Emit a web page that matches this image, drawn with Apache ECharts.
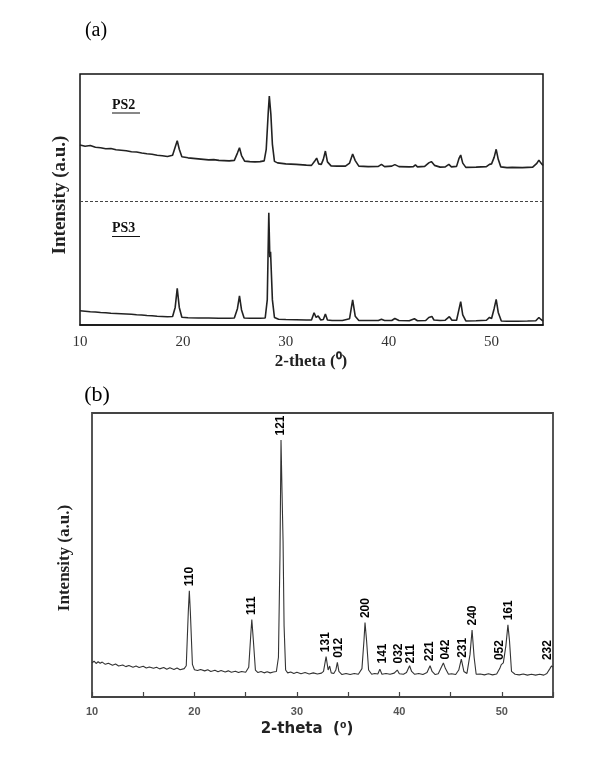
<!DOCTYPE html>
<html><head><meta charset="utf-8">
<script src="https://cdn.jsdelivr.net/npm/echarts/dist/echarts.min.js"></script>
<style>html,body{margin:0;padding:0;background:#fff}#c{width:608px;height:768px}</style>
</head><body><div id="c"></div>
<script>
// ---------- Panel (a): PS2 (offset upper trace) ----------
const ps2Theta = [10.0,10.5,11.0,11.5,12.0,12.5,13.0,13.5,14.0,14.5,15.0,15.5,16.0,16.5,17.0,17.5,18.0,18.5,19.0,19.3,19.45,19.65,19.9,20.5,21.0,21.5,22.0,22.5,23.0,23.5,24.0,24.5,25.0,25.3,25.5,25.7,26.0,26.5,27.0,27.5,27.9,28.1,28.3,28.4,28.55,28.7,28.9,29.2,30.0,31.0,32.0,32.5,32.8,33.0,33.2,33.45,33.65,33.85,34.05,34.4,35.0,35.8,36.2,36.5,36.75,37.1,38.0,39.0,39.3,39.6,40.3,40.6,41.0,42.0,42.4,42.6,42.8,43.5,43.9,44.15,44.45,45.0,45.5,45.85,46.1,46.6,46.85,47.0,47.2,47.5,48.5,49.5,49.8,50.0,50.25,50.45,50.65,50.9,51.5,52.0,53.0,53.5,54.0,54.4,54.6,54.8,55.0];
const ps2Int = [71.7,71.2,71.5,70.8,70.6,70.2,70.3,69.8,69.6,69.4,69.0,68.9,68.5,68.2,68.0,67.6,67.4,67.1,67.6,71.5,73.4,70.0,67.0,66.6,66.4,66.2,66.0,65.8,65.9,65.6,65.5,65.4,65.6,68.5,70.6,67.5,65.3,65.1,65.0,65.1,65.4,70.0,85.0,91.2,84.0,72.0,65.2,64.6,64.2,64.0,63.7,63.6,65.2,66.5,64.2,64.0,66.0,69.3,65.0,63.4,63.3,63.3,64.5,68.1,65.5,63.3,63.1,63.2,64.0,63.1,63.3,63.9,63.1,63.0,63.1,63.8,63.0,63.2,64.6,65.1,63.6,62.9,63.0,64.0,63.0,63.2,66.5,67.7,64.5,62.8,62.9,63.1,64.0,64.2,66.8,70.0,66.0,63.0,62.7,62.8,62.7,62.8,62.9,64.4,65.7,64.5,63.5];

// ---------- Panel (a): PS3 (lower trace) ----------
const ps3Theta = [10.0,10.5,11.0,11.5,12.0,12.5,13.0,13.5,14.0,14.5,15.0,15.5,16.0,16.5,17.0,17.5,18.0,18.5,19.0,19.25,19.45,19.65,19.9,20.5,21.5,22.5,23.5,24.5,25.0,25.3,25.5,25.7,25.95,26.5,27.5,28.0,28.2,28.35,28.45,28.52,28.7,28.9,29.3,30.0,31.0,32.0,32.5,32.75,32.95,33.15,33.4,33.65,33.85,34.05,34.5,35.5,36.2,36.5,36.75,37.1,38.0,39.0,39.3,39.6,40.3,40.6,41.0,42.0,42.5,42.8,43.6,43.9,44.0,44.2,44.4,45.0,45.5,45.9,46.15,46.6,46.85,47.0,47.2,47.5,48.5,49.5,49.8,50.0,50.25,50.45,50.65,50.95,51.5,52.5,53.5,54.3,54.6,54.8,55.0];
const ps3Int = [5.7,5.5,5.3,5.2,5.0,4.9,4.7,4.6,4.5,4.4,4.3,4.1,4.0,3.8,3.7,3.5,3.4,3.3,3.4,7.0,14.6,7.0,3.1,2.9,2.8,2.8,2.7,2.7,2.8,6.5,11.6,6.0,2.8,2.7,2.7,2.8,10.0,44.7,27.0,29.2,10.0,3.0,2.3,2.2,2.1,2.0,2.0,4.9,3.0,3.6,2.0,2.2,4.4,2.0,1.8,1.8,2.5,10.0,3.5,1.8,1.8,1.8,2.3,1.8,1.8,2.6,1.8,1.7,2.5,1.7,1.8,3.0,2.7,3.4,2.0,1.8,1.9,3.3,1.9,1.9,6.5,9.3,4.0,1.6,1.7,1.9,3.0,2.6,6.5,10.2,5.0,1.6,1.5,1.5,1.6,1.7,3.0,2.2,1.6];
const separatorLevel = 49.5;

// ---------- Panel (b): indexed pattern ----------
const bTheta = [10.0,10.2,10.4,10.6,10.8,11.0,11.3,11.6,12.0,12.3,12.6,13.0,13.3,13.6,14.0,14.3,14.6,15.0,15.3,15.6,16.0,16.3,16.6,17.0,17.3,17.6,18.0,18.3,18.6,19.0,19.2,19.4,19.5,19.6,19.8,20.0,20.3,20.6,21.0,21.3,21.6,22.0,22.3,22.6,23.0,23.3,23.6,24.0,24.3,24.6,25.0,25.3,25.5,25.6,25.75,25.95,26.2,26.5,26.8,27.1,27.4,27.7,28.0,28.2,28.35,28.45,28.55,28.65,28.75,28.9,29.1,29.4,29.7,30.0,30.4,30.8,31.2,31.6,32.0,32.4,32.6,32.85,33.05,33.2,33.35,33.6,33.8,33.95,34.1,34.4,34.8,35.2,35.6,36.0,36.35,36.55,36.65,36.8,37.0,37.3,37.6,37.9,38.1,38.3,38.7,39.1,39.5,39.8,40.0,40.4,40.7,41.0,41.2,41.5,41.9,42.3,42.7,43.0,43.2,43.5,43.8,44.1,44.3,44.5,44.8,45.1,45.5,45.8,46.05,46.3,46.6,46.9,47.1,47.3,47.5,47.9,48.3,48.7,49.1,49.5,49.8,49.95,50.15,50.4,50.6,50.75,50.95,51.3,51.7,52.1,52.5,52.9,53.3,53.7,54.1,54.4,54.7,54.85,55.0];
const bInt = [12.0,12.6,11.8,12.4,11.9,12.3,11.5,11.9,11.2,11.6,10.9,11.3,10.7,11.1,10.5,10.9,10.4,10.8,10.2,10.6,10.1,10.5,9.9,10.4,9.8,10.3,9.7,10.2,9.6,10.0,11.0,30.0,37.4,30.0,11.5,9.6,9.3,9.7,9.2,9.6,9.0,9.4,8.9,9.3,8.8,9.2,8.7,9.1,8.6,9.0,8.7,10.5,22.0,27.3,20.0,9.5,8.6,9.0,8.5,8.9,8.5,8.8,9.0,14.0,50.0,90.5,72.0,55.0,25.0,9.5,8.5,8.8,8.3,8.7,8.2,8.6,8.1,8.5,8.1,8.4,9.0,14.2,9.5,10.9,8.5,8.3,9.5,12.2,9.0,7.9,8.3,7.9,8.3,8.0,10.0,20.0,26.2,20.0,9.5,8.0,8.3,8.1,9.8,8.0,8.3,8.0,8.4,9.5,8.2,8.0,8.6,11.0,9.0,8.0,8.3,7.9,8.6,11.0,9.0,7.9,8.2,10.5,12.0,10.0,8.0,8.2,7.9,9.5,13.3,9.0,8.3,15.0,23.6,14.0,8.0,8.1,7.8,8.2,7.8,8.1,10.0,11.4,12.0,18.0,25.4,20.0,9.0,8.0,7.8,8.1,7.7,8.0,7.7,8.0,7.7,8.3,10.0,10.9,10.5];

// Miller-index labels of panel (b)
const hklLabels = ['110','111','121','131','012','200','141','032','211','221','042','231','240','052','161','232'];
const hklTheta  = [19.5,25.6,28.45,32.8,34.05,36.7,38.35,39.9,41.15,43.0,44.55,46.2,47.2,49.75,50.7,54.45];
const hklInt    = [37.4,27.3,90.5,14.2,12.2,26.2,10.2,10.2,10.2,11.0,11.6,12.2,23.6,11.4,25.4,11.4];

const xTickLabels = [10,20,30,40,50];

const pairs = (xs, ys) => xs.map((x, i) => [x, ys[i]]);
const SERIF = '"Liberation Serif", "Times New Roman", serif';
const SANS = '"Liberation Sans", Arial, sans-serif';

const chart = echarts.init(document.getElementById('c'), null, {renderer: 'canvas'});
const xFmt = v => (xTickLabels.indexOf(v) >= 0 ? String(v) : '');

chart.setOption({
  animation: false,
  backgroundColor: '#fff',
  grid: [
    {left: 80, top: 74, width: 463, height: 251, show: true, borderColor: '#111', borderWidth: 1.5, outerBoundsMode: 'none', containLabel: false},
    {left: 92, top: 413, width: 461, height: 284, show: true, borderColor: '#444', borderWidth: 1.8, outerBoundsMode: 'none', containLabel: false}
  ],
  xAxis: [
    {gridIndex: 0, type: 'value', min: 10, max: 55, interval: 10,
     axisLine: {show: true, lineStyle: {color: '#111', width: 1.5}},
     axisTick: {show: false}, splitLine: {show: false},
     axisLabel: {formatter: xFmt, fontFamily: SERIF, fontSize: 15, color: '#333', margin: 10, showMaxLabel: true}},
    {gridIndex: 1, type: 'value', min: 10, max: 55, interval: 5,
     axisLine: {show: true, lineStyle: {color: '#444', width: 1.8}},
     axisTick: {show: true, inside: true, length: 5, lineStyle: {color: '#444', width: 1.2}},
     splitLine: {show: false},
     axisLabel: {formatter: xFmt, fontFamily: SANS, fontWeight: 'bold', fontSize: 11, color: '#555', margin: 9}}
  ],
  yAxis: [
    {gridIndex: 0, type: 'value', min: 0, max: 100, show: true,
     axisLine: {show: false}, axisTick: {show: false}, axisLabel: {show: false}, splitLine: {show: false}},
    {gridIndex: 1, type: 'value', min: 0, max: 100, show: true,
     axisLine: {show: false}, axisTick: {show: false}, axisLabel: {show: false}, splitLine: {show: false}}
  ],
  series: [
    {name: 'PS2', type: 'line', xAxisIndex: 0, yAxisIndex: 0, data: pairs(ps2Theta, ps2Int),
     showSymbol: false, lineStyle: {color: '#222', width: 1.6}, silent: true,
     markLine: {silent: true, symbol: 'none', label: {show: false},
       lineStyle: {color: '#444', type: [3, 2], width: 1},
       data: [{yAxis: separatorLevel}]}},
    {name: 'PS3', type: 'line', xAxisIndex: 0, yAxisIndex: 0, data: pairs(ps3Theta, ps3Int),
     showSymbol: false, lineStyle: {color: '#222', width: 1.6}, silent: true},
    {name: 'pattern', type: 'line', xAxisIndex: 1, yAxisIndex: 1, data: pairs(bTheta, bInt),
     showSymbol: false, lineStyle: {color: '#333', width: 1.1}, silent: true},
    {name: 'hkl', type: 'scatter', xAxisIndex: 1, yAxisIndex: 1, symbolSize: 1,
     itemStyle: {color: 'rgba(0,0,0,0)'}, silent: true,
     data: hklTheta.map((t, i) => ({name: hklLabels[i], value: [t, hklInt[i]]})),
     label: {show: true, formatter: p => p.name, position: 'top', distance: 4, rotate: 90,
       align: 'left', verticalAlign: 'middle', fontFamily: SANS, fontWeight: 'bold', fontSize: 12, color: '#000', opacity: 1},
     labelLayout: {hideOverlap: false}}
  ],
  graphic: [
    {type: 'text', x: 96, y: 31, style: {text: '(a)', font: '20px ' + SERIF, fill: '#000', align: 'center', verticalAlign: 'middle'}},
    {type: 'text', x: 97, y: 395, style: {text: '(b)', font: '22px ' + SERIF, fill: '#000', align: 'center', verticalAlign: 'middle'}},
    {type: 'text', x: 112, y: 105, style: {text: 'PS2', font: 'bold 14px ' + SERIF, fill: '#111', align: 'left', verticalAlign: 'middle'}},
    {type: 'line', shape: {x1: 112, y1: 113, x2: 140, y2: 113}, style: {stroke: '#111', lineWidth: 1}},
    {type: 'text', x: 112, y: 228, style: {text: 'PS3', font: 'bold 14px ' + SERIF, fill: '#111', align: 'left', verticalAlign: 'middle'}},
    {type: 'line', shape: {x1: 112, y1: 236.5, x2: 140, y2: 236.5}, style: {stroke: '#111', lineWidth: 1}},
    {type: 'text', x: 60, y: 195, rotation: Math.PI / 2, style: {text: 'Intensity (a.u.)', font: 'bold 19px ' + SERIF, fill: '#222', align: 'center', verticalAlign: 'middle'}},
    {type: 'text', x: 65, y: 558, rotation: Math.PI / 2, style: {text: 'Intensity (a.u.)', font: 'bold 17px ' + SERIF, fill: '#222', align: 'center', verticalAlign: 'middle'}},
    {type: 'text', x: 311, y: 362, style: {text: '2-theta (\u2070)', font: 'bold 17px ' + SERIF, fill: '#222', align: 'center', verticalAlign: 'middle'}},
    {type: 'text', x: 307, y: 729, style: {text: '2-theta  (\u2070)', font: 'bold 15px "DejaVu Sans", sans-serif', fill: '#222', align: 'center', verticalAlign: 'middle'}}
  ]
});
</script>
</body></html>
